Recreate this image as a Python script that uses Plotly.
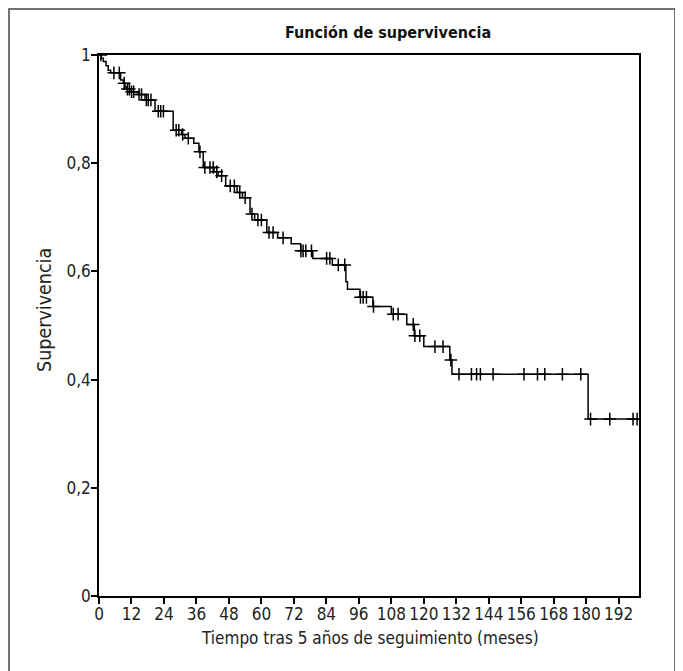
import plotly.graph_objects as go

# Kaplan-Meier step function: event times (months) and survival after each step
step_times = [0, 0.8, 1.6, 2.6, 3.4, 4.3, 8.0, 9.0, 9.6, 10.2, 11.4, 14.5, 17.0, 20.7,
              27.4, 30.5, 31.8, 35.0, 36.9, 38.5, 42.5, 44.0, 46.8, 51.0, 53.0, 55.8,
              57.5, 62.0, 66.0, 71.0, 74.5, 79.0, 86.2, 91.2, 91.8, 96.4, 101.2, 108.0,
              113.7, 116.5, 120.0, 129.6, 130.4, 180.7]
step_surv = [1.0, 0.994, 0.988, 0.980, 0.972, 0.967, 0.954, 0.948, 0.941, 0.937, 0.932,
             0.927, 0.917, 0.896, 0.861, 0.853, 0.846, 0.837, 0.821, 0.792, 0.784, 0.777,
             0.758, 0.746, 0.736, 0.706, 0.695, 0.672, 0.662, 0.651, 0.638, 0.624, 0.612,
             0.581, 0.567, 0.552, 0.535, 0.521, 0.502, 0.481, 0.461, 0.436, 0.410, 0.327]
end_time = 199.5

# censored observations (months)
censor_times = [0.7, 5.5, 7.5, 9.3, 10.5, 11.2, 12.0, 12.8, 14.8, 15.7, 17.5, 18.2, 19.2,
                21.9, 22.8, 23.8, 28.5, 29.5, 30.9, 33.0, 37.3, 39.1, 41.0, 42.2, 43.5,
                45.3, 48.5, 50.0, 52.0, 54.0, 56.5, 58.7, 60.0, 62.8, 64.3, 68.0, 74.6,
                75.4, 76.4, 78.5, 84.1, 85.3, 88.4, 90.8, 96.6, 97.6, 98.8, 101.4, 108.7,
                110.5, 116.1, 116.7, 118.5, 124.1, 127.1, 130.0, 133.0, 137.6, 139.5,
                140.9, 145.6, 157.0, 162.0, 164.7, 171.2, 178.0, 181.6, 188.7, 197.3, 198.8]

x_ticks = [0, 12, 24, 36, 48, 60, 72, 84, 96, 108, 120, 132, 144, 156, 168, 180, 192]
y_ticks = [0, 0.2, 0.4, 0.6, 0.8, 1]
y_tick_labels = ["0", "0,2", "0,4", "0,6", "0,8", "1"]

title_text = "Función de supervivencia"
x_title = "Tiempo tras 5 años de seguimiento (meses)"
y_title = "Supervivencia"


def surv_at(t):
    s = step_surv[0]
    for tt, ss in zip(step_times, step_surv):
        if tt <= t:
            s = ss
        else:
            break
    return s


line_x = step_times + [end_time]
line_y = step_surv + [step_surv[-1]]
cens_y = [surv_at(t) for t in censor_times]

FONT = "DejaVu Sans Condensed, Liberation Sans Narrow, sans-serif"

fig = go.Figure()
fig.add_trace(go.Scatter(x=line_x, y=line_y, mode="lines", line=dict(shape="hv", color="black", width=1.5),
                         hoverinfo="skip", showlegend=False))
fig.add_trace(go.Scatter(x=censor_times, y=cens_y, mode="markers",
                         marker=dict(symbol="cross-thin", size=9, line=dict(color="black", width=1.5)),
                         showlegend=False))

# page body has an 8px offset; layout positions below are in window pixels
OFF = 8
W, H = 683, 671
PL, PR, PT, PB = 99, 639, 55, 596  # plot area in window pixels
L, T = PL - OFF, PT - OFF
R = W - (PR - OFF)
B = H - (PB - OFF)
pw, ph = PR - PL, PB - PT


def px(xp):
    return (xp - PL) / pw


def py(yp):
    return (PB - yp) / ph


fig.update_layout(
    width=W, height=H,
    margin=dict(l=L, r=R, t=T, b=B),
    paper_bgcolor="white", plot_bgcolor="white",
    font=dict(family=FONT, size=17, color="#222"),
    xaxis=dict(range=[0, end_time], tickvals=x_ticks, ticks="outside", ticklen=6, tickwidth=1.5,
               tickcolor="black", showline=True, linecolor="black", linewidth=1.5, mirror=True,
               showgrid=False, zeroline=False, tickfont=dict(size=17), ticklabelstandoff=-4),
    yaxis=dict(range=[0, 1], tickvals=y_ticks, ticktext=y_tick_labels, ticks="outside", ticklen=6,
               tickwidth=1.5, tickcolor="black", showline=True, linecolor="black", linewidth=1.5,
               mirror=True, showgrid=False, zeroline=False, tickfont=dict(size=17), ticklabelstandoff=-3),
    shapes=[dict(type="rect", xref="paper", yref="paper", x0=px(9), x1=px(675), y0=py(680), y1=py(OFF + 1),
                 line=dict(color="#444", width=1.5), fillcolor="rgba(0,0,0,0)", layer="below")],
    annotations=[
        dict(text="<b>" + title_text + "</b>", xref="paper", yref="paper", x=px(388), y=py(33),
             showarrow=False, font=dict(size=16, family=FONT, color="#111"), xanchor="center", yanchor="middle"),
        dict(text=x_title, xref="paper", yref="paper", x=px(370), y=py(638), showarrow=False,
             font=dict(size=17, family=FONT), xanchor="center", yanchor="middle"),
        dict(text=y_title, xref="paper", yref="paper", x=px(44), y=py(310), showarrow=False, textangle=-90,
             font=dict(size=19.5, family=FONT), xanchor="center", yanchor="middle"),
    ],
)

fig.write_html("out.html")
